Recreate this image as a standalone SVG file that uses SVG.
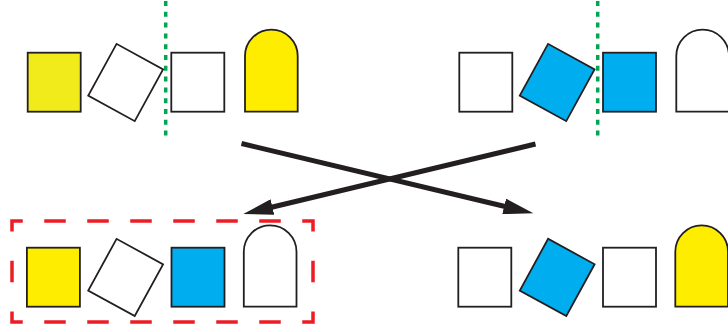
<svg xmlns="http://www.w3.org/2000/svg" width="728" height="332" viewBox="0 0 728 332">
<style>
.n{stroke:#231F20;stroke-width:1.8;stroke-linejoin:miter}
.w{fill:#FFFFFF}
.y{fill:#FFED00}
.y2{fill:#F2EB1C}
.b{fill:#00AEEF}
.g{stroke:#00A651;stroke-width:3.5;stroke-dasharray:5 5.8;fill:none}
.c{stroke:#231F20;stroke-width:5;fill:none;marker-end:url(#ah)}
.r{stroke:#ED1C24;stroke-width:3.5;fill:none;stroke-dasharray:21.25 21.5 21.5 21.5 21.5 21.5 21.5 21.5 21.5 21.5 21.5 21.5 21.5 21.5 21.25 29.25 21.5 29.25 21.25 21.5 21.5 21.5 21.5 21.5 21.5 21.5 21.5 21.5 21.5 21.5 21.5 21.5 21.25 29.25 21.5 29.25}
</style>
<defs>
<marker id="ah" viewBox="0 0 30 16" refX="2" refY="8" markerWidth="30" markerHeight="16" markerUnits="userSpaceOnUse" orient="auto">
<path d="M0,0 L30,8 L0,16 Z" fill="#231F20"/>
</marker>
</defs>
<g id="dividers">
<line class="g" x1="165.7" y1="1" x2="165.7" y2="141"/>
<line class="g" x1="597.7" y1="1" x2="597.7" y2="141"/>
</g>
<g id="group-top-left">
<rect id="tl1" class="n y2" x="27.7" y="52.7" width="53" height="59"/>
<rect id="tl2" class="n w" x="-26.5" y="-29.5" width="53" height="59" transform="translate(125.65 82.5) rotate(28.7)"/>
<rect id="tl3" class="n w" x="171.3" y="52.7" width="53" height="59"/>
<path id="tl4" class="n y" d="M245,111.7 V56 A26.35,26.35 0 0 1 297.7,56 V111.7 Z"/>
</g>
<g id="group-top-right">
<rect id="tr1" class="n w" x="459.3" y="52.7" width="53" height="59"/>
<rect id="tr2" class="n b" x="-26.5" y="-29.5" width="53" height="59" transform="translate(557.15 82.5) rotate(28.7)"/>
<rect id="tr3" class="n b" x="603" y="52.7" width="53" height="59"/>
<path id="tr4" class="n w" d="M676.3,111.7 V56 A26.35,26.35 0 0 1 729,56 V111.7 Z"/>
</g>
<g id="group-bottom-left">
<path id="selection" class="r" d="M12,231.5 V221 H313 V322 H12 Z"/>
<rect id="bl1" class="n y" x="26.9" y="247.7" width="53" height="59"/>
<rect id="bl2" class="n w" x="-26.5" y="-29.5" width="53" height="59" transform="translate(125.65 277.45) rotate(28.7)"/>
<rect id="bl3" class="n b" x="171.5" y="247.7" width="53" height="59"/>
<path id="bl4" class="n w" d="M243.8,306.7 V251.7 A26.35,26.35 0 0 1 296.5,251.7 V306.7 Z"/>
</g>
<g id="group-bottom-right">
<rect id="br1" class="n w" x="458.3" y="247.7" width="53" height="59"/>
<rect id="br2" class="n b" x="-26.5" y="-29.5" width="53" height="59" transform="translate(557.2 277.4) rotate(28.7)"/>
<rect id="br3" class="n w" x="603" y="247.7" width="53" height="59"/>
<path id="br4" class="n y" d="M675.3,306.7 V251.7 A26.35,26.35 0 0 1 728,251.7 V306.7 Z"/>
</g>
<g id="connectors">
<line class="c" x1="241.5" y1="143.5" x2="506.1" y2="206.8"/>
<line class="c" x1="535.5" y1="144" x2="270.5" y2="207.5"/>
</g>
</svg>
